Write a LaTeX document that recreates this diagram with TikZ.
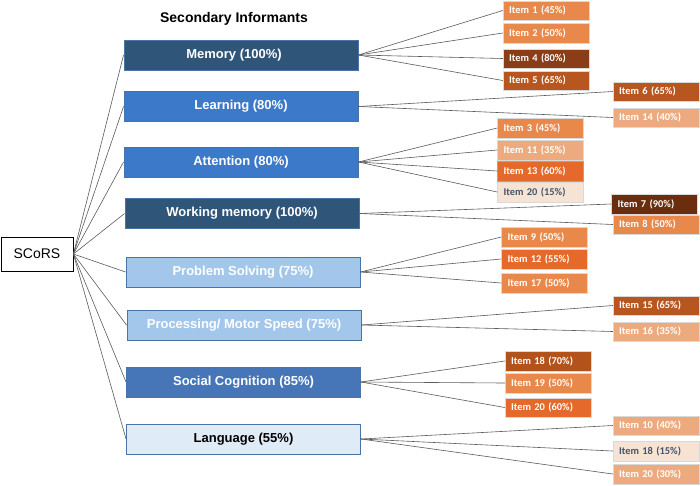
\documentclass[tikz,border=0pt]{standalone}
\usepackage{fontspec}
\setmainfont{Liberation Sans}
\newfontfamily\itemfont{Carlito}
\definecolor{dkblue}{HTML}{2F5579}
\definecolor{mdblue}{HTML}{3C79C9}
\definecolor{scblue}{HTML}{4676B8}
\definecolor{ltblue}{HTML}{A3C7EA}
\definecolor{paleblue}{HTML}{DFEBF7}
\definecolor{bordblue}{HTML}{4A74A8}
\definecolor{cA}{HTML}{E8894B}
\definecolor{cB}{HTML}{8A3D17}
\definecolor{cC}{HTML}{B8561F}
\definecolor{cD}{HTML}{EDAA7F}
\definecolor{cE}{HTML}{E4692A}
\definecolor{cF}{HTML}{F6E3D4}
\definecolor{cG}{HTML}{6A2D0D}
\definecolor{cH}{HTML}{B4521C}
\definecolor{darktext}{HTML}{44546A}
\definecolor{linegray}{HTML}{5A5A5A}
\tikzset{
  dombox/.style={draw=bordblue, line width=0.9pt, minimum width=234pt, minimum height=30pt, inner sep=0pt, text=white, font=\fontsize{13}{15}\selectfont\bfseries},
  itembox/.style={draw=white!85!black, line width=0.5pt, minimum width=86pt, minimum height=19.5pt, inner xsep=6pt, inner ysep=0pt, text width=74pt, align=left, text=white, font=\itemfont\fontsize{10.4}{12}\selectfont\bfseries},
  conn/.style={draw=linegray, line width=0.6pt},
}
\begin{document}
\begin{tikzpicture}[x=1pt,y=-1pt]
\useasboundingbox (0,0) rectangle (700,485);
\fill[white] (0,0) rectangle (700,485);
\node[font=\fontsize{14}{16}\selectfont\bfseries] (title) at (234,19) {Secondary Informants};
\node[draw=black, line width=0.8pt, minimum width=72pt, minimum height=34pt, inner sep=0pt, font=\fontsize{14}{16}\selectfont] (scors) at (37,254) {SCoRS};
% domains
\node[dombox, fill=dkblue] (mem) at (241,55) {\hspace*{-14pt}Memory (100\%)};
\node[dombox, fill=mdblue, minimum height=29.5pt] (lea) at (241,106.5) {Learning (80\%)};
\node[dombox, fill=mdblue] (att) at (241,162) {Attention (80\%)};
\node[dombox, fill=dkblue, minimum height=29.5pt] (wm) at (242,213.5) {Working memory (100\%)};
\node[dombox, fill=ltblue] (ps) at (243,272) {Problem Solving (75\%)};
\node[dombox, fill=ltblue] (pms) at (244,325) {Processing/ Motor Speed (75\%)};
\node[dombox, fill=scblue] (sc) at (243.5,382) {Social Cognition (85\%)};
\node[dombox, fill=paleblue, text=black] (lang) at (243.5,439) {Language (55\%)};
% items
\node[itembox, fill=cA] (i1) at (546,10.5) {Item 1 (45\%)};
\node[itembox, fill=cA] (i2) at (546,33) {Item 2 (50\%)};
\node[itembox, fill=cB] (i4) at (546,58.5) {Item 4 (80\%)};
\node[itembox, fill=cC] (i5) at (546,80.5) {Item 5 (65\%)};
\node[itembox, fill=cC] (i6) at (656,91.5) {Item 6 (65\%)};
\node[itembox, fill=cD] (i14) at (656,117.5) {Item 14 (40\%)};
\node[itembox, fill=cA] (i3) at (540.5,128) {Item 3 (45\%)};
\node[itembox, fill=cD] (i11) at (540.5,150) {Item 11 (35\%)};
\node[itembox, fill=cE, draw=orange!80!yellow] (i13) at (540.5,171) {Item 13 (60\%)};
\node[itembox, fill=cF, text=darktext] (i20a) at (540.5,192) {Item 20 (15\%)};
\node[itembox, fill=cG] (i7) at (654.5,204) {Item 7 (90\%)};
\node[itembox, fill=cA] (i8) at (656,224.5) {Item 8 (50\%)};
\node[itembox, fill=cA] (i9) at (544.5,237) {Item 9 (50\%)};
\node[itembox, fill=cE] (i12) at (544.5,259) {Item 12 (55\%)};
\node[itembox, fill=cA] (i17) at (544.5,283) {Item 17 (50\%)};
\node[itembox, fill=cC] (i15) at (656,305.5) {Item 15 (65\%)};
\node[itembox, fill=cD] (i16) at (656,331.5) {Item 16 (35\%)};
\node[itembox, fill=cH] (i18a) at (548,361) {Item 18 (70\%)};
\node[itembox, fill=cA] (i19) at (548,383) {Item 19 (50\%)};
\node[itembox, fill=cE] (i20b) at (548,407.5) {Item 20 (60\%)};
\node[itembox, fill=cD] (i10) at (656,425.5) {Item 10 (40\%)};
\node[itembox, fill=cF, text=darktext] (i18b) at (656,451) {Item 18 (15\%)};
\node[itembox, fill=cD] (i20c) at (656,474) {Item 20 (30\%)};
% connectors
\foreach \d in {mem,lea,att,wm,ps,pms,sc,lang}
  \draw[conn] (scors.east) -- (\d.west);
\foreach \i in {i1,i2,i4,i5} \draw[conn] (mem.east) -- (\i.west);
\foreach \i in {i6,i14} \draw[conn] (lea.east) -- (\i.west);
\foreach \i in {i3,i11,i13,i20a} \draw[conn] (att.east) -- (\i.west);
\foreach \i in {i7,i8} \draw[conn] (wm.east) -- (\i.west);
\foreach \i in {i9,i12,i17} \draw[conn] (ps.east) -- (\i.west);
\foreach \i in {i15,i16} \draw[conn] (pms.east) -- (\i.west);
\foreach \i in {i18a,i19,i20b} \draw[conn] (sc.east) -- (\i.west);
\foreach \i in {i10,i18b,i20c} \draw[conn] (lang.east) -- (\i.west);
\end{tikzpicture}
\end{document}
